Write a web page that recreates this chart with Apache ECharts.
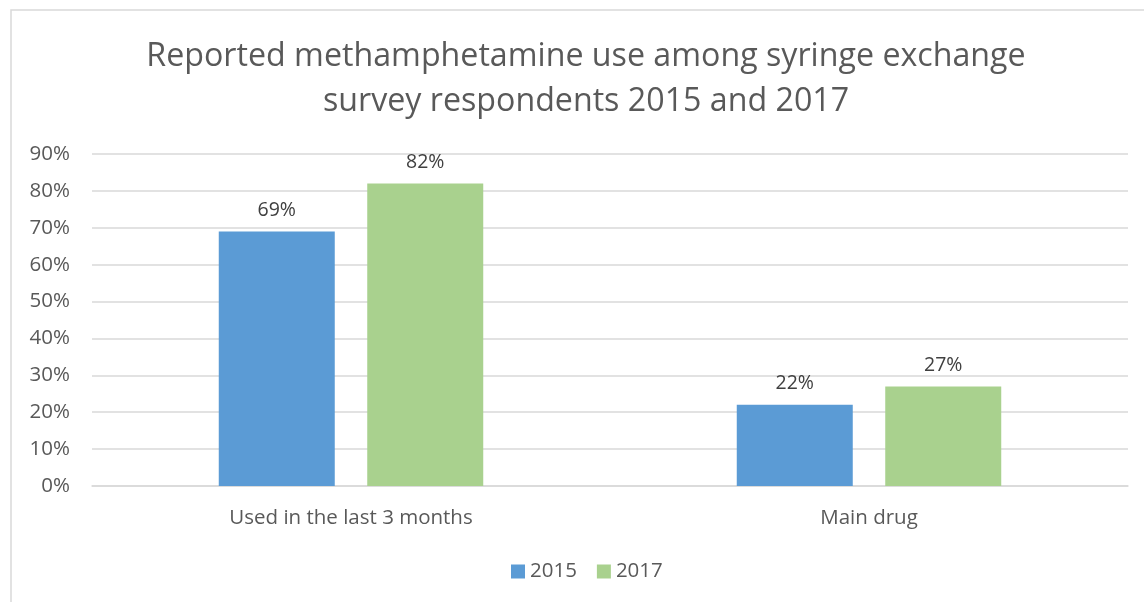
<!DOCTYPE html>
<html><head><meta charset="utf-8">
<script src="https://cdn.jsdelivr.net/npm/echarts@6/dist/echarts.min.js"></script>
<style>html,body{margin:0;padding:0;background:#fff}#c{width:1144px;height:602px}</style>
</head><body><div id="c"></div>
<script>
const categories = ["Used in the last 3 months", "Main drug"];
const series2015 = [69, 22];
const series2017 = [82, 27];
const seriesNames = ["2015", "2017"];
const titleText = "Reported methamphetamine use among syringe exchange\nsurvey respondents 2015 and 2017";

const font = "'Open Sans', 'Noto Sans', sans-serif";
const chart = echarts.init(document.getElementById('c'));
const lbl = {show: true, position: 'top', distance: 11, formatter: p => p.value + '%', color: '#404040', fontSize: 19.5, fontFamily: font};
chart.setOption({
  animation: false,
  graphic: [{type: 'rect', shape: {x: 11, y: 10, width: 1140, height: 600}, style: {fill: 'none', stroke: '#d9d9d9', lineWidth: 1.5}, silent: true}],
  title: {text: titleText, left: 581, textAlign: 'center', top: 29, textStyle: {fontFamily: font, fontSize: 32.2, fontWeight: 'normal', color: '#595959', lineHeight: 45}},
  legend: {data: seriesNames, bottom: 15, left: 506, itemWidth: 14, itemHeight: 14, itemGap: 20, icon: 'rect', textStyle: {fontFamily: font, fontSize: 20.5, color: '#595959'}},
  grid: {left: 92, right: 16, top: 154, bottom: 116, containLabel: false},
  xAxis: {type: 'category', data: categories, axisTick: {show: false}, axisLine: {lineStyle: {color: '#d9d9d9', width: 1.5}}, axisLabel: {fontFamily: font, fontSize: 20.5, color: '#595959', margin: 22}},
  yAxis: {type: 'value', min: 0, max: 90, interval: 10, axisLabel: {formatter: '{value}%', fontFamily: font, fontSize: 20.5, color: '#595959', margin: 22}, splitLine: {lineStyle: {color: '#d9d9d9', width: 1.5}}, axisLine: {show: false}, axisTick: {show: false}},
  series: [
    {name: seriesNames[0], type: 'bar', data: series2015, barWidth: 116, barGap: '28%', itemStyle: {color: '#5b9bd5'}, label: lbl},
    {name: seriesNames[1], type: 'bar', data: series2017, barWidth: 116, barGap: '28%', itemStyle: {color: '#a9d18e'}, label: lbl}
  ]
});
</script></body></html>
